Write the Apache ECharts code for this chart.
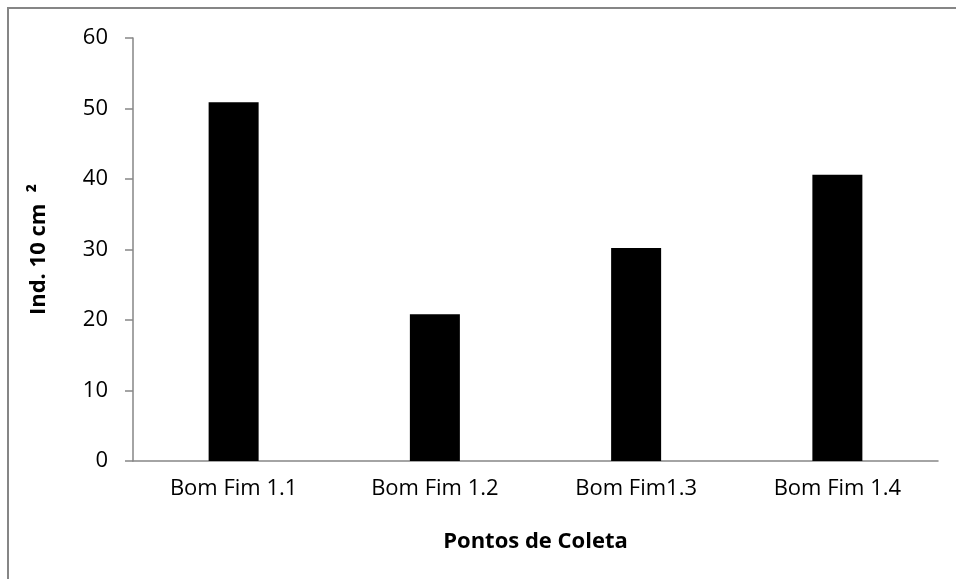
<!DOCTYPE html>
<html>
<head>
<meta charset="utf-8">
<script src="https://cdn.jsdelivr.net/npm/echarts@6/dist/echarts.min.js"></script>
<style>
html,body{margin:0;padding:0;background:#fff;}
#chart{width:956px;height:579px;}
</style>
</head>
<body>
<div id="chart"></div>
<script>
const categories = ["Bom Fim 1.1", "Bom Fim 1.2", "Bom Fim1.3", "Bom Fim 1.4"];
const values = [50.9, 20.8, 30.2, 40.6];
const yTicks = [0, 10, 20, 30, 40, 50, 60];
const yAxisTitle = "Ind. 10 cm  ²";
const xAxisTitle = "Pontos de Coleta";

const chart = echarts.init(document.getElementById('chart'), null, {renderer: 'canvas'});
const FONT = '"Open Sans", "Noto Sans", sans-serif';
chart.setOption({
  animation: false,
  backgroundColor: '#fff',
  graphic: [{
    type: 'rect',
    shape: {x: 8, y: 8, width: 1200, height: 1200},
    style: {fill: 'none', stroke: '#868686', lineWidth: 2},
    silent: true
  }],
  grid: {left: 133, right: 18, top: 38, bottom: 118},
  xAxis: {
    type: 'category',
    data: categories,
    axisLine: {lineStyle: {color: '#868686', width: 1.5}},
    axisTick: {show: false},
    axisLabel: {color: '#000', fontFamily: FONT, fontSize: 22, margin: 17},
    name: xAxisTitle,
    nameLocation: 'middle',
    nameGap: 70,
    nameTextStyle: {color: '#000', fontFamily: FONT, fontSize: 22, fontWeight: 'bold'}
  },
  yAxis: {
    type: 'value',
    min: yTicks[0],
    max: yTicks[yTicks.length - 1],
    interval: 10,
    axisLine: {show: true, lineStyle: {color: '#868686', width: 1.5}},
    axisTick: {show: true, length: 8, lineStyle: {color: '#868686', width: 1.5}},
    splitLine: {show: false},
    axisLabel: {color: '#000', fontFamily: FONT, fontSize: 22, margin: 25},
    name: yAxisTitle,
    nameLocation: 'middle',
    nameGap: 83,
    nameTextStyle: {color: '#000', fontFamily: FONT, fontSize: 22, fontWeight: 'bold'}
  },
  series: [{
    type: 'bar',
    data: values,
    barWidth: 50,
    itemStyle: {color: '#000'}
  }]
});
</script>
</body>
</html>
